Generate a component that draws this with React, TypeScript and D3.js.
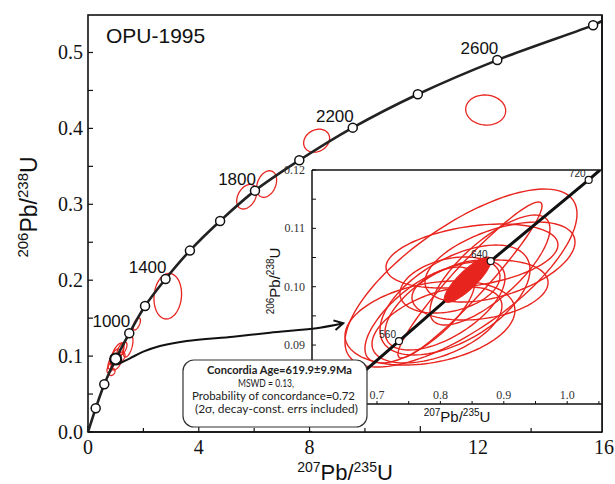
import React from "react";
import * as d3 from "d3";

// ---------- DATA ----------
// Main concordia curve: [207Pb/235U, 206Pb/238U]
const mainCurveX = [0, 0.278, 0.588, 1.0, 1.49, 2.06, 2.8, 3.68, 4.77, 6.03, 7.63, 9.56, 11.91, 14.78, 18.24, 18.56];
const mainCurveY = [0, 0.0312, 0.0628, 0.0962, 0.13, 0.166, 0.2016, 0.239, 0.278, 0.318, 0.358, 0.401, 0.445, 0.49, 0.536, 0.5415];
// indices (into curve arrays) of age marker circles
const markerIdx = [1, 2, 3, 4, 5, 6, 7, 8, 9, 10, 11, 12, 13, 14];
const highlightIdx = 3;
const ageLabels = ["1000", "1400", "1800", "2200", "2600"];
const ageLabelIdx = [4, 6, 9, 11, 13];

// Main-plot error ellipses: cx, cy, sx, sy, rho
const mainEllipses = [
  [14.36, 0.4242, 0.722, 0.0198, -0.05],
  [8.256, 0.3838, 0.469, 0.01515, 0.2],
  [5.73, 0.31, 0.361, 0.0162, 0.35],
  [6.45, 0.3267, 0.361, 0.0175, 0.3],
  [2.88, 0.1789, 0.498, 0.03, 0.1],
  [1.76, 0.1423, 0.134, 0.0079, 0.6],
  [1.444, 0.1133, 0.18, 0.0145, 0.5],
  [1.083, 0.1054, 0.217, 0.0119, 0.6],
  [0.975, 0.0988, 0.18, 0.0105, 0.6],
  [1.155, 0.0975, 0.18, 0.0079, 0.5],
  [0.866, 0.0922, 0.144, 0.0092, 0.6],
  [0.794, 0.0843, 0.108, 0.0066, 0.5],
  [0.866, 0.079, 0.108, 0.0046, 0.3],
  [1.227, 0.1093, 0.18, 0.0092, 0.6],
  [1.01, 0.0896, 0.18, 0.0079, 0.5],
];

// Arrow annotation path (main-plot data coordinates)
const arrowX = [1.094, 1.516, 1.996, 2.599, 3.563, 5.245, 6.57, 8.375, 9.217];
const arrowY = [0.0896, 0.0971, 0.1058, 0.1133, 0.1199, 0.1256, 0.1308, 0.1374, 0.1432];

const mainXTicks = [0, 2, 4, 6, 8, 10, 12, 16];
const mainXTickLabels = ["0", "4", "8", "12", "16"];
const mainXTickLabelPos = [0, 4, 8, 14.08, 18.63];
const mainYTicks = [0, 0.05, 0.1, 0.15, 0.2, 0.25, 0.3, 0.35, 0.4, 0.45, 0.5];
const mainYTickLabels = ["0.0", "0.1", "0.2", "0.3", "0.4", "0.5"];
const mainYTickLabelVals = [0, 0.1, 0.2, 0.3, 0.4, 0.5];

// Inset
const insetCurveX = [0.6208, 0.7347, 0.8793, 1.0339, 1.0517];
const insetCurveY = [0.0799, 0.09069, 0.1044, 0.1183, 0.12];
const insetAgeLabels = ["560", "640", "720"];
const insetAgeIdx = [1, 2, 3];
const insetEllipses = [
  [0.8325, 0.10149, 0.183, 0.01525, 0.72],
  [0.8467, 0.10115, 0.1136, 0.01337, 0.95],
  [0.8498, 0.10526, 0.1356, 0.00548, 0.35],
  [0.7836, 0.09378, 0.134, 0.0072, 0.3],
  [0.823, 0.09772, 0.1183, 0.00942, 0.55],
  [0.894, 0.10423, 0.1183, 0.00685, 0.5],
  [0.8073, 0.09686, 0.0946, 0.00771, 0.6],
  [0.8625, 0.09943, 0.1073, 0.00514, 0.25],
  [0.7678, 0.09515, 0.0868, 0.00822, 0.7],
  [0.8782, 0.10286, 0.0946, 0.00942, 0.75],
  [0.8151, 0.10029, 0.0789, 0.0048, 0.3],
  [0.7946, 0.09344, 0.1025, 0.00651, 0.5],
];
const concordiaEllipse = [0.843, 0.1012, 0.037, 0.0039, 0.84];
const insetXTicks = [0.6, 0.65, 0.7, 0.75, 0.8, 0.85, 0.9, 0.95, 1.0, 1.05];
const insetXTickLabels = ["0.7", "0.8", "0.9", "1.0"];
const insetXTickLabelVals = [0.7, 0.8, 0.9, 1.0];
const insetYTicks = [0.08, 0.085, 0.09, 0.095, 0.1, 0.105, 0.11, 0.115, 0.12];
const insetYTickLabels = ["0.09", "0.10", "0.11", "0.12"];
const insetYTickLabelVals = [0.09, 0.1, 0.11, 0.12];

const calloutLines = [
  "Concordia Age=619.9\u00b19.9Ma",
  "MSWD = 0.13,",
  "Probability of concordance=0.72",
  "(2\u03c3, decay-const. errs included)",
];

// ---------- HELPERS ----------
function ellipsePts(e: number[], n = 90): [number, number][] {
  const [cx, cy, sx, sy, rho] = e;
  const k = Math.sqrt(1 - rho * rho);
  const pts: [number, number][] = [];
  for (let i = 0; i < n; i++) {
    const t = (i / n) * Math.PI * 2;
    pts.push([cx + sx * Math.cos(t), cy + sy * (rho * Math.cos(t) + k * Math.sin(t))]);
  }
  return pts;
}

const RED = "#e8241e";
const SERIF = "'Liberation Serif', 'Times New Roman', serif";
const SANS = "'Liberation Sans', Arial, sans-serif";

export default function App() {
  const W = 615, H = 484;
  // main scales
  const L = 88, R = 602, T = 15, B = 432;
  const x = d3.scaleLinear().domain([0, 18.56]).range([L, R]);
  const y = d3.scaleLinear().domain([0, 0.5494]).range([B, T]);
  // inset scales
  const iL = 312, iR = 602, iT = 170, iB = 404;
  const ix = d3.scaleLinear().domain([0.5975, 1.0549]).range([iL, iR]);
  const iy = d3.scaleLinear().domain([0.0799, 0.12]).range([iB, iT]);

  const mainLine = d3.line<number>().x((i) => x(mainCurveX[i])).y((i) => y(mainCurveY[i])).curve(d3.curveCatmullRom);
  const mainIdx = mainCurveX.map((_, i) => i);
  const ellMain = d3.line<[number, number]>().x((p) => x(p[0])).y((p) => y(p[1])).curve(d3.curveLinearClosed);
  const ellInset = d3.line<[number, number]>().x((p) => ix(p[0])).y((p) => iy(p[1])).curve(d3.curveLinearClosed);
  const arrowLine = d3.line<number>().x((i) => x(arrowX[i])).y((i) => y(arrowY[i])).curve(d3.curveCatmullRom);
  const insetLine = d3.line<number>().x((i) => ix(insetCurveX[i])).y((i) => iy(insetCurveY[i]));

  const calloutX = [207, 238, 192, 195];
  const calloutLen = [145, 56, 163, 163];
  const calloutBase = [373.5, 387, 400, 413];

  return (
    <svg width={W} height={H} viewBox={`0 0 ${W} ${H}`} style={{ position: "absolute", left: 0, top: 0, background: "#fff" }}>
      <defs>
        <clipPath id="insetClip">
          <rect x={iL} y={iT} width={iR - iL} height={iB - iT} />
        </clipPath>
        <marker id="arrowHead" viewBox="0 0 12 12" refX="10" refY="6" markerWidth="12" markerHeight="12" markerUnits="userSpaceOnUse" orient="auto">
          <path d="M1,1 L10,6 L1,11" fill="none" stroke="#111" strokeWidth="2" />
        </marker>
      </defs>
      <rect width={W} height={H} fill="#fff" />

      {/* main frame */}
      <rect x={L} y={T} width={R - L} height={B - T} fill="none" stroke="#111" strokeWidth={1.6} />

      {/* main y ticks */}
      {mainYTicks.map((v) => (
        <line key={"yt" + v} x1={L} x2={L + 5} y1={y(v)} y2={y(v)} stroke="#111" strokeWidth={1.2} />
      ))}
      {mainYTickLabelVals.map((v, i) => (
        <text key={"yl" + v} x={83} y={y(v) + 7} textAnchor="end" fontFamily={SERIF} fontSize={20} fill="#111">
          {mainYTickLabels[i]}
        </text>
      ))}
      {/* main x ticks */}
      {mainXTicks.map((v) => (
        <line key={"xt" + v} x1={x(v)} x2={x(v)} y1={B} y2={B - (v % 4 === 0 && v < 16 ? 6 : 4)} stroke="#111" strokeWidth={1.2} />
      ))}
      {mainXTickLabelPos.map((v, i) => (
        <text key={"xl" + i} x={x(v)} y={454} textAnchor="middle" fontFamily={SERIF} fontSize={20} fill="#111">
          {mainXTickLabels[i]}
        </text>
      ))}

      {/* axis titles */}
      <text x={345} y={480} textAnchor="middle" fontFamily={SANS} fill="#111">
        <tspan fontSize={14} dy={-8}>207</tspan>
        <tspan fontSize={22} dy={8}>Pb/</tspan>
        <tspan fontSize={14} dy={-8}>235</tspan>
        <tspan fontSize={22} dy={8}>U</tspan>
      </text>
      <text transform="translate(37,207) rotate(-90)" textAnchor="middle" fontFamily={SANS} fill="#111">
        <tspan fontSize={15} dy={-9}>206</tspan>
        <tspan fontSize={23} dy={9}>Pb/</tspan>
        <tspan fontSize={15} dy={-9}>238</tspan>
        <tspan fontSize={23} dy={9}>U</tspan>
      </text>

      <text x={106} y={43} fontFamily={SANS} fontSize={21} fill="#111">OPU-1995</text>

      {/* main ellipses */}
      {mainEllipses.map((e, i) => (
        <path key={"me" + i} d={ellMain(ellipsePts(e)) || ""} fill="none" stroke={RED} strokeWidth={1.3} />
      ))}

      {/* main concordia */}
      <path d={mainLine(mainIdx) || ""} fill="none" stroke="#222" strokeWidth={2.6} />
      {markerIdx.map((i) => (
        <circle key={"mc" + i} cx={x(mainCurveX[i])} cy={y(mainCurveY[i])} r={i === highlightIdx ? 5.5 : 4.5} fill="#fff" stroke="#111" strokeWidth={i === highlightIdx ? 2.2 : 1.5} />
      ))}
      {ageLabelIdx.map((idx, i) => (
        <text key={"al" + i} x={x(mainCurveX[idx]) + 1} y={y(mainCurveY[idx]) - 6} textAnchor="end" fontFamily={SANS} fontSize={17} fill="#111">
          {ageLabels[i]}
        </text>
      ))}

      {/* inset */}
      <rect x={iL} y={iT} width={iR - iL} height={B - iT} fill="#fff" />
      <line x1={iL} x2={iR} y1={iT} y2={iT} stroke="#111" strokeWidth={1.5} />
      <line x1={iL} x2={iL} y1={iT} y2={iB} stroke="#111" strokeWidth={1.5} />
      <line x1={iL} x2={iR} y1={iB} y2={iB} stroke="#111" strokeWidth={1.5} />
      <line x1={iR} x2={iR} y1={T} y2={B} stroke="#111" strokeWidth={1.6} />
      <line x1={L} x2={R} y1={B} y2={B} stroke="#111" strokeWidth={1.6} />
      {mainXTicks.filter((v) => x(v) > iL).map((v) => (
        <line key={"xt2" + v} x1={x(v)} x2={x(v)} y1={B} y2={B - (v % 4 === 0 && v < 16 ? 6 : 4)} stroke="#111" strokeWidth={1.2} />
      ))}

      {insetYTicks.map((v) => (
        <line key={"iyt" + v} x1={iL} x2={iL + 4} y1={iy(v)} y2={iy(v)} stroke="#111" strokeWidth={1} />
      ))}
      {insetYTickLabelVals.map((v, i) => (
        <text key={"iyl" + v} x={305} y={iy(v) + 4} textAnchor="end" fontFamily={SERIF} fontSize={12} fill="#333">
          {insetYTickLabels[i]}
        </text>
      ))}
      {insetXTicks.filter((v) => ix(v) >= iL && ix(v) <= iR).map((v) => (
        <line key={"ixt" + v} x1={ix(v)} x2={ix(v)} y1={iB} y2={iB - 3} stroke="#111" strokeWidth={1} />
      ))}
      {insetXTickLabelVals.map((v, i) => (
        <text key={"ixl" + v} x={ix(v)} y={399} textAnchor="middle" fontFamily={SERIF} fontSize={12} fill="#333">
          {insetXTickLabels[i]}
        </text>
      ))}
      <text x={457} y={422} textAnchor="middle" fontFamily={SANS} fill="#111">
        <tspan fontSize={10} dy={-6}>207</tspan>
        <tspan fontSize={15} dy={6}>Pb/</tspan>
        <tspan fontSize={10} dy={-6}>235</tspan>
        <tspan fontSize={15} dy={6}>U</tspan>
      </text>
      <text transform="translate(280,281) rotate(-90)" textAnchor="middle" fontFamily={SANS} fill="#111">
        <tspan fontSize={10} dy={-6}>206</tspan>
        <tspan fontSize={15} dy={6}>Pb/</tspan>
        <tspan fontSize={10} dy={-6}>238</tspan>
        <tspan fontSize={15} dy={6}>U</tspan>
      </text>

      <g clipPath="url(#insetClip)">
        {insetEllipses.map((e, i) => (
          <path key={"ie" + i} d={ellInset(ellipsePts(e, 120)) || ""} fill="none" stroke={RED} strokeWidth={1.4} />
        ))}
        <path d={insetLine(insetCurveX.map((_, i) => i)) || ""} fill="none" stroke="#111" strokeWidth={3} />
        <path d={ellInset(ellipsePts(concordiaEllipse)) || ""} fill={RED} stroke={RED} strokeWidth={1} />
        {insetAgeIdx.map((idx, i) => (
          <g key={"ia" + i}>
            <circle cx={ix(insetCurveX[idx])} cy={iy(insetCurveY[idx])} r={3.5} fill="#fff" stroke="#111" strokeWidth={1.2} />
            <text x={ix(insetCurveX[idx]) - 3} y={iy(insetCurveY[idx]) - 3} textAnchor="end" fontFamily={SANS} fontSize={10} fill="#222">
              {insetAgeLabels[i]}
            </text>
          </g>
        ))}
      </g>

      {/* arrow */}
      <path d={arrowLine(arrowX.map((_, i) => i)) || ""} fill="none" stroke="#111" strokeWidth={2} markerEnd="url(#arrowHead)" />

      {/* callout */}
      <rect x={183} y={360} width={184} height={67} rx={11} fill="#fff" stroke="#333" strokeWidth={1.2} />
      {calloutLines.map((s, i) => (
        <text key={"cl" + i} x={calloutX[i]} y={calloutBase[i]} textLength={calloutLen[i]} lengthAdjust="spacingAndGlyphs" fontFamily="Lato, 'Open Sans', sans-serif" fontSize={11.5} fontWeight={i === 0 ? 700 : 400} fill="#222">
          {s}
        </text>
      ))}
    </svg>
  );
}
